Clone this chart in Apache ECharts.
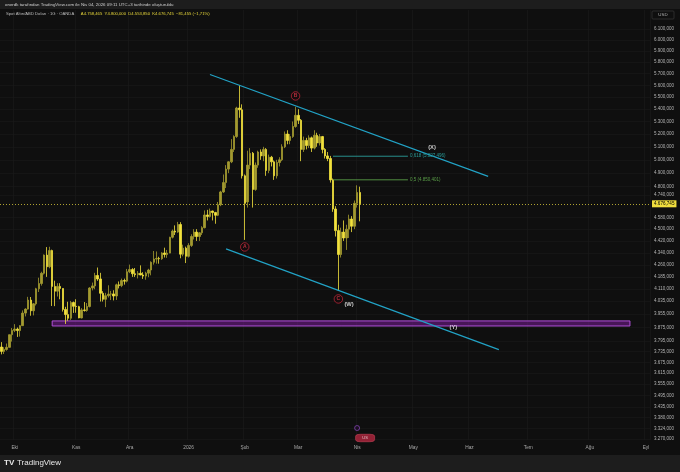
<!DOCTYPE html>
<html><head><meta charset="utf-8">
<script src="https://cdn.jsdelivr.net/npm/echarts@6/dist/echarts.min.js"></script>
<style>html,body{margin:0;padding:0;background:#0f0f0f;}#c{width:680px;height:472px;}</style>
</head><body><div id="c"></div>
<script>
// ---- categories: OANDA daily trading days (weekdays minus closed days) ----
const firstTradingDay = [2025, 8, 24];
const closedDays = ['2025-12-25', '2026-01-01', '2026-04-03'];
const categoryCount = 243;
const monthNames = ['Oca','Şub','Mar','Nis','May','Haz','Tem','Ağu','Eyl','Eki','Kas','Ara'];

// ---- XAU/USD daily candles (Sep 24 2025 .. Apr 2 2026) ----
const openPrices = [
3762,3737,3748,3760,3833,3858,3866,3857,3886,3961,
3985,4040,3975,4017,4110,4143,4208,4326,4250,4356,
4125,4095,4125,4112,3983,3952,3930,4025,4002,4000,
3932,3980,3977,4001,4115,4128,4194,4172,4082,4045,
4067,4077,4078,4065,4135,4130,4162,4158,4218,4232,
4205,4199,4208,4197,4190,4209,4229,4279,4300,4304,
4302,4340,4330,4339,4445,4487,4480,4532,4332,4372,
4318,4390,4450,4480,4450,4475,4510,4598,4588,4626,
4615,4596,4670,4762,4830,4930,4985,5080,5180,5410,
5395,4880,4690,4960,5050,4780,4960,5060,5030,5080,
4920,5020,4985,4880,4980,5000,5100,5200,5150,5180,
5260,5350,5310,5080,5150,5110,5170,5090,5190,5130,
5180,5080,5030,5010,4850,4640,4490,4330,4480,4440,
4500,4570,4520,4680,4758.465];
const highPrices = [
3790,3761,3782,3834,3872,3895,3875,3889,3977,3990,
4060,4059,4022,4116,4180,4218,4330,4379,4381,4362,
4161,4145,4145,4113,3999,4030,4035,4031,4045,4005,
3991,4028,4022,4120,4149,4211,4245,4211,4095,4085,
4132,4097,4101,4142,4156,4174,4174,4236,4264,4241,
4242,4222,4259,4215,4218,4237,4285,4353,4350,4315,
4345,4375,4360,4448,4497,4526,4550,4548,4395,4382,
4405,4465,4500,4500,4480,4520,4630,4634,4643,4628,
4620,4690,4770,4890,4960,4990,5160,5190,5420,5600.802,
5440,4890,5070,5090,5060,4980,5070,5080,5100,5090,
5040,5030,4995,5000,5020,5120,5220,5230,5200,5300,
5420,5400,5320,5180,5170,5190,5180,5230,5210,5200,
5185,5090,5060,5030,4860,4660,4530,4510,4560,4530,
4600,4590,4700,4810,4800];
const lowPrices = [
3720,3722,3741,3758,3793,3848,3820,3822,3884,3941,
3982,3945,3947,4007,4090,4130,4200,4185,4240,4004,
4003,4062,4045,3970,3896,3915,3920,3962,3963,3930,
3929,3970,3969,3995,4100,4107,4160,4031,4031,3997,
4056,4040,4038,4041,4112,4120,4136,4150,4209,4185,
4185,4175,4196,4172,4167,4183,4195,4264,4270,4270,
4295,4310,4308,4338,4437,4460,4475,4305,4318,4274,
4310,4380,4430,4420,4420,4460,4505,4560,4580,4560,
4537,4590,4660,4755,4790,4900,4975,5060,5170,5330,
4860,4427,4650,4930,4650,4770,4940,5000,4990,4880,
4900,4950,4850,4860,4950,4990,5090,5120,5120,5170,
5250,5280,4990,5060,5080,5090,5060,5080,5100,5110,
5050,5010,4990,4830,4620,4450,4100,4310,4420,4360,
4440,4480,4500,4650,4553.85];
const closePrices = [
3737,3748,3760,3833,3858,3866,3857,3886,3961,3985,
4040,3975,4017,4110,4143,4208,4326,4250,4356,4125,
4095,4125,4112,3983,3952,3930,4025,4002,4000,3932,
3980,3977,4001,4115,4128,4194,4172,4082,4045,4067,
4077,4078,4065,4135,4130,4162,4158,4218,4232,4205,
4199,4208,4197,4190,4209,4229,4279,4300,4304,4302,
4340,4330,4339,4445,4487,4480,4532,4332,4372,4318,
4390,4450,4480,4450,4475,4510,4598,4588,4626,4615,
4596,4670,4762,4830,4930,4985,5080,5180,5410,5395,
4880,4680,4960,5050,4780,4960,5060,5030,5080,4920,
5020,4985,4880,4980,5000,5100,5200,5150,5180,5260,
5350,5310,5080,5150,5110,5170,5090,5190,5130,5180,
5080,5030,5010,4850,4640,4490,4330,4480,4440,4500,
4570,4520,4680,4758.2,4676.745];

// ---- price scale tick labels ----
const priceTicks = [6100,6000,5900,5800,5700,5600,5500,5400,5300,5200,5100,5000,4900,4800,4740,
  4580,4500,4420,4340,4260,4185,4110,4035,3955,3875,3795,3735,3675,3615,3555,3495,3435,3380,3324,3270];

// ---- drawings (bar index, price) ----
const upperChannelIdx = [78, 182];
const upperChannelPrice = [5692, 4876];
const lowerChannelIdx = [84, 186];
const lowerChannelPrice = [4367, 3747];
const fibRatios = ['0,618', '0,5'];
const fibPrices = [5027.496, 4850.401];
const fibColors = ['#2a9c98', '#5a9e48'];
const fibIdx = [124, 152];
const zoneIdx = [19, 235];
const zonePrice = [3884, 3914];
const waveTexts = ['A', 'B', 'C', '(W)', '(X)', '(Y)'];
const waveIdx = [91, 110, 126, 130, 161, 169];
const wavePrice = [4380, 5510, 4047, 4015, 5098, 3873];
const waveCircled = [true, true, true, false, false, false];

const legendName = 'Spot Altın/ABD Doları · 1G · OANDA';
const legendValues = 'A4.758,465  Y4.800,000  D4.553,850  K4.676,745  −81,455 (−1,71%)';
const headerText = 'onerdk tarafından TradingView.com ile Nis 04, 2026 09:11 UTC+3 tarihinde oluşturuldu';

function buildDates() {
  const out = [];
  const d = new Date(Date.UTC(firstTradingDay[0], firstTradingDay[1], firstTradingDay[2]));
  while (out.length < categoryCount) {
    const wd = d.getUTCDay();
    const s = d.toISOString().slice(0, 10);
    if (wd !== 0 && wd !== 6 && closedDays.indexOf(s) < 0) out.push(s);
    d.setUTCDate(d.getUTCDate() + 1);
  }
  return out;
}
const dates = buildDates();
function isMonthStart(i) {
  return i > 0 && dates[i].slice(5, 7) !== dates[i - 1].slice(5, 7);
}
function monthLabel(v) {
  const m = +v.slice(5, 7);
  return m === 1 ? v.slice(0, 4) : monthNames[m - 1];
}
function fmt(v) {
  const s = (+v).toFixed(3);
  const parts = s.split('.');
  return parts[0].replace(/\B(?=(\d{3})+(?!\d))/g, '.') + ',' + parts[1];
}

const candleData = openPrices.map((o, i) => [o, closePrices[i], lowPrices[i], highPrices[i]]);
const lastClose = closePrices[closePrices.length - 1];
const FONT = 'Liberation Sans, Arial, sans-serif';
const UP = '#a39a30', DOWN = '#f3e23d';

const series = [
  {
    type: 'candlestick',
    data: candleData,
    barWidth: '75%',
    itemStyle: { color: UP, color0: DOWN, borderColor: UP, borderColor0: DOWN, borderWidth: 0.8 },
    markArea: {
      silent: true,
      itemStyle: { color: 'rgba(120,30,150,0.55)', borderColor: '#b04fd8', borderWidth: 1 },
      data: [[{ xAxis: dates[zoneIdx[0]], yAxis: zonePrice[0] }, { xAxis: dates[zoneIdx[1]], yAxis: zonePrice[1] }]]
    },
    markLine: {
      silent: true, symbol: 'none',
      lineStyle: { type: [1, 2], color: '#d8c83a', width: 0.8 },
      label: { show: true, position: 'end', formatter: () => fmt(lastClose), backgroundColor: '#f0de3e',
        color: '#000', fontSize: 4.6, fontFamily: FONT, padding: [1, 2, 1, 2], distance: 2 },
      data: [{ yAxis: lastClose }]
    }
  },
  {
    type: 'line', symbol: 'none', silent: true,
    data: upperChannelIdx.map((k, i) => [dates[k], upperChannelPrice[i]]),
    lineStyle: { color: '#22a3c6', width: 1.1 }
  },
  {
    type: 'line', symbol: 'none', silent: true,
    data: lowerChannelIdx.map((k, i) => [dates[k], lowerChannelPrice[i]]),
    lineStyle: { color: '#22a3c6', width: 1.1 }
  }
];
fibPrices.forEach((p, j) => {
  series.push({
    type: 'line', symbol: 'none', silent: true,
    data: fibIdx.map(k => [dates[k], p]),
    lineStyle: { color: fibColors[j], width: 0.9 },
    endLabel: { show: true, formatter: fibRatios[j] + ' (' + fmt(p) + ')', color: fibColors[j],
      fontSize: 4.5, fontFamily: FONT, distance: 2 }
  });
});
series.push({
  type: 'scatter', silent: true, clip: false,
  data: waveTexts.map((t, i) => ({
    value: [dates[waveIdx[i]], wavePrice[i]],
    symbol: 'circle',
    symbolSize: waveCircled[i] ? 8.5 : 1,
    itemStyle: waveCircled[i]
      ? { color: '#140b0d', borderColor: '#c8283c', borderWidth: 0.9 }
      : { color: 'rgba(0,0,0,0)', borderWidth: 0 },
    label: { show: true, position: 'inside', formatter: t,
      color: waveCircled[i] ? '#e0384a' : '#f0f0f0', fontSize: waveCircled[i] ? 5 : 5.8,
      fontWeight: 'bold', fontFamily: FONT }
  }))
});
series.push({
  type: 'scatter', silent: true, clip: false,
  data: [
    { value: [dates[133], 3326], symbol: 'circle', symbolSize: 5,
      itemStyle: { color: '#1a0f22', borderColor: '#9b4fd0', borderWidth: 0.8 } },
    { value: [dates[136], 3276], symbol: 'roundRect', symbolSize: [19, 7.5],
      itemStyle: { color: '#b3263e', borderColor: '#d44a5e', borderWidth: 0.6 },
      label: { show: true, position: 'inside', formatter: 'US', color: '#f4dfe2', fontSize: 4, fontFamily: FONT } }
  ]
});

const option = {
  animation: false,
  backgroundColor: '#0f0f0f',
  textStyle: { fontFamily: FONT },
  grid: { left: 0, top: 10, width: 650, height: 430, show: false },
  xAxis: {
    type: 'category', data: dates, boundaryGap: true,
    axisLine: { show: false }, axisTick: { show: false },
    axisLabel: { interval: (i) => isMonthStart(i), formatter: monthLabel, color: '#a8a8a8',
      fontSize: 4.8, margin: 5, fontFamily: FONT },
    splitLine: { show: true, interval: (i) => isMonthStart(i), lineStyle: { color: '#1a1a1a', width: 0.7 } }
  },
  yAxis: {
    type: 'log', logBase: 10, min: 3266, max: 6279, position: 'right',
    axisLine: { show: false },
    axisTick: { show: false, customValues: priceTicks },
    axisLabel: { customValues: priceTicks, formatter: (v) => fmt(Math.round(v)), align: 'right', margin: 24,
      color: '#b4b4b4', fontSize: 4.5, fontFamily: FONT },
    splitLine: { show: true, lineStyle: { color: '#191919', width: 0.7 } }
  },
  graphic: [
    { type: 'rect', shape: { x: 0, y: 0, width: 680, height: 9 }, style: { fill: '#1d1d1d' }, z: 10 },
    { type: 'text', x: 5, y: 4.5, style: { text: headerText, fill: '#cfcfcf', fontSize: 4.4, fontFamily: FONT, verticalAlign: 'middle' }, z: 11 },
    { type: 'text', x: 6, y: 14, style: {
        text: '{n|' + legendName + '}  {v|' + legendValues + '}',
        rich: { n: { fill: '#bdbdbd', fontSize: 4.2, fontFamily: FONT }, v: { fill: '#e9d83b', fontSize: 4.2, fontFamily: FONT } },
        verticalAlign: 'middle' }, z: 11 },
    { type: 'rect', shape: { x: 652, y: 11, width: 22, height: 8, r: 1 }, style: { fill: '#0f0f0f', stroke: '#3a3a3a', lineWidth: 0.7 }, z: 11 },
    { type: 'text', x: 663, y: 15, style: { text: 'USD', fill: '#b4b4b4', fontSize: 4.4, fontFamily: FONT, align: 'center', verticalAlign: 'middle' }, z: 12 },
    { type: 'rect', shape: { x: 0, y: 455, width: 680, height: 17 }, style: { fill: '#1d1d1d' }, z: 10 },
    { type: 'text', x: 4, y: 463, style: { text: 'TV', fill: '#e8e8e8', fontSize: 8, fontWeight: 'bold', fontFamily: FONT, verticalAlign: 'middle' }, z: 11 },
    { type: 'text', x: 17, y: 463, style: { text: 'TradingView', fill: '#e8e8e8', fontSize: 8, fontFamily: FONT, verticalAlign: 'middle' }, z: 11 }
  ],
  series: series
};
const chart = echarts.init(document.getElementById('c'), null, { renderer: 'canvas' });
chart.setOption(option);
</script></body></html>
